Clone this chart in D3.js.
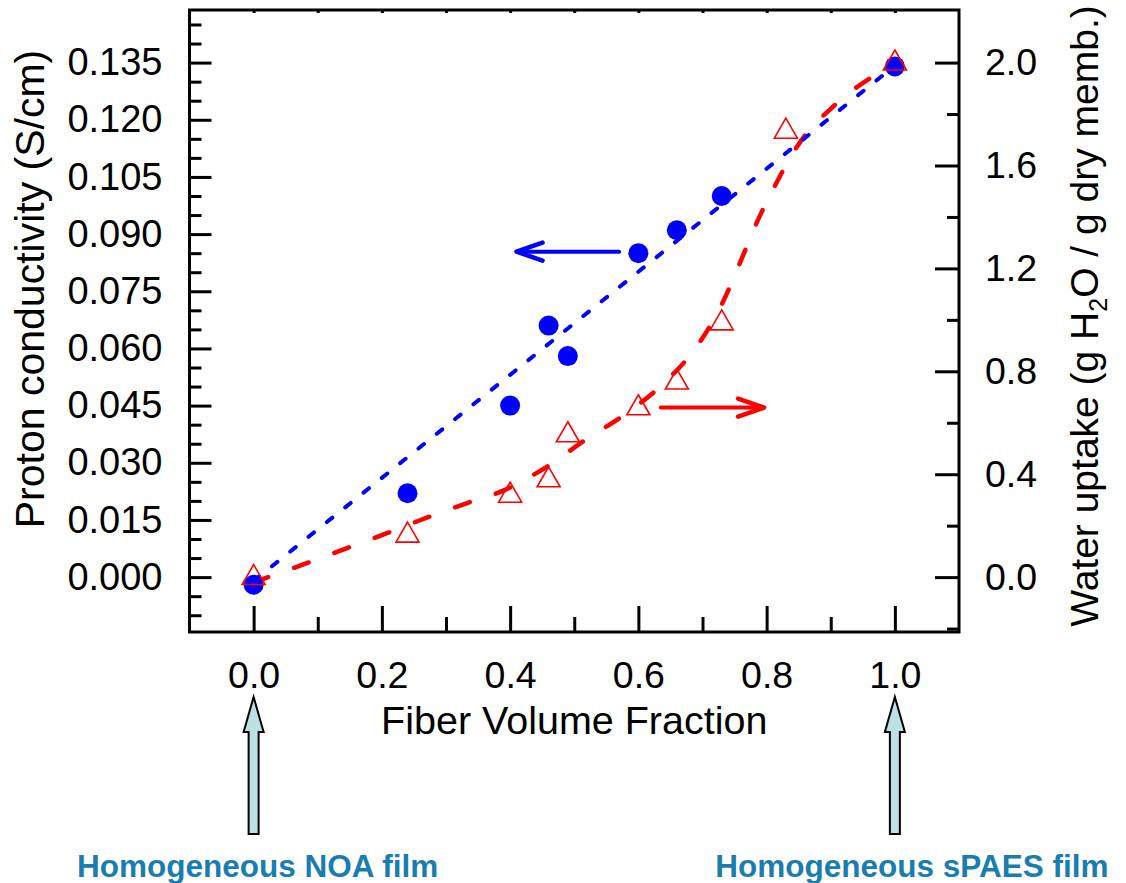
<!DOCTYPE html>
<html lang="en">
<head>
<meta charset="UTF-8">
<title>fiber volume fraction</title>
<style>
    body { margin: 0; background: #fff; }
    svg text { font-family: "Liberation Sans", Arial, sans-serif; fill: #000; }
</style>
</head>
<body>
<script src="https://cdn.jsdelivr.net/npm/d3@7"></script>
<svg id="svg"></svg>
<script>
// conductivity (left axis, S/cm)
var condX = [0, 0.24, 0.40, 0.46, 0.49, 0.60, 0.66, 0.73, 1.0];
var condY = [-0.002, 0.022, 0.045, 0.066, 0.058, 0.085, 0.091, 0.100, 0.134];
// straight dashed line through the conductivity data
var condLineX = [0, 1.0];
var condLineY = [-0.001, 0.1342];

// water uptake (right axis)
var waterX = [0, 0.24, 0.40, 0.46, 0.49, 0.60, 0.66, 0.73, 0.83, 1.0];
var waterY = [0.01, 0.175, 0.33, 0.39, 0.565, 0.67, 0.77, 1.0, 1.745, 2.01];
// dashed curve for water uptake
var waterLineX = [0, 0.054, 0.146, 0.208, 0.272, 0.333, 0.392, 0.454, 0.517, 0.582, 0.642, 0.696, 0.732, 0.759, 0.785, 0.816, 0.847, 0.91, 0.969, 1.0];
var waterLineY = [-0.02, 0.028, 0.113, 0.171, 0.233, 0.288, 0.339, 0.424, 0.533, 0.638, 0.759, 0.914, 1.07, 1.225, 1.38, 1.536, 1.672, 1.843, 1.952, 1.998];

// ticks
var xMajor = [0, 0.2, 0.4, 0.6, 0.8, 1.0];
var xMinor = [0.1, 0.3, 0.5, 0.7, 0.9];
var xTop = [0, 0.1, 0.2, 0.3, 0.4, 0.5, 0.6, 0.7, 0.8, 0.9, 1.0];
var leftMajor = [0, 0.015, 0.030, 0.045, 0.060, 0.075, 0.090, 0.105, 0.120, 0.135];
var leftMinor = [-0.010, -0.005, 0.005, 0.010, 0.020, 0.025, 0.035, 0.040, 0.050, 0.055, 0.065, 0.070,
    0.080, 0.085, 0.095, 0.100, 0.110, 0.115, 0.125, 0.130, 0.140, 0.145];
var rightMajor = [0, 0.4, 0.8, 1.2, 1.6, 2.0];
var rightMinor = [-0.2, 0.2, 0.6, 1.0, 1.4, 1.8];

var xTitle = "Fiber Volume Fraction";
var yLeftTitle = "Proton conductivity (S/cm)";
var notes = [{ x: 0, dx: 4, text: "Homogeneous NOA film" }, { x: 1.0, dx: 17, text: "Homogeneous sPAES film" }];

var w = 1126, h = 883;
var L = 189.5, R = 959, T = 10, B = 632;

var svg = d3.select("#svg").attr("width", w).attr("height", h);

var x = d3.scaleLinear().domain([-0.1, 1.1]).range([L, R]);
var yL = d3.scaleLinear().domain([-0.0144, 0.1488]).range([B, T]);
var yR = d3.scaleLinear().domain([-0.0144 / 0.0675, 0.1488 / 0.0675]).range([B, T]);

function styleAxis(g, size) {
    g.select(".domain").remove();
    g.selectAll(".tick line").attr("stroke", "#000").attr("stroke-width", 3);
    g.selectAll("text").attr("font-size", size).attr("font-family", "Liberation Sans, Arial, sans-serif");
}

// axes
svg.append("g").attr("transform", "translate(0," + B + ")")
    .call(d3.axisBottom(x).tickValues(xMajor).tickSize(-26).tickPadding(29).tickFormat(d3.format(".1f")))
    .call(styleAxis, 37.5);
svg.append("g").attr("transform", "translate(0," + B + ")")
    .call(d3.axisBottom(x).tickValues(xMinor).tickSize(-15).tickFormat(""))
    .call(styleAxis, 37);
svg.append("g").attr("transform", "translate(0," + T + ")")
    .call(d3.axisTop(x).tickValues(xTop).tickSize(-3).tickFormat(""))
    .call(styleAxis, 37);
svg.append("g").attr("transform", "translate(" + L + ",0)")
    .call(d3.axisLeft(yL).tickValues(leftMajor).tickSize(-22).tickPadding(27).tickFormat(d3.format(".3f")))
    .call(styleAxis, 38);
svg.append("g").attr("transform", "translate(" + L + ",0)")
    .call(d3.axisLeft(yL).tickValues(leftMinor).tickSize(-12).tickFormat(""))
    .call(styleAxis, 37);
svg.append("g").attr("transform", "translate(" + R + ",0)")
    .call(d3.axisRight(yR).tickValues(rightMajor).tickSize(-24).tickPadding(26).tickFormat(d3.format(".1f")))
    .call(styleAxis, 37.5);
svg.append("g").attr("transform", "translate(" + R + ",0)")
    .call(d3.axisRight(yR).tickValues(rightMinor).tickSize(-12).tickFormat(""))
    .call(styleAxis, 37);

svg.append("rect")
    .attr("x", L).attr("y", T).attr("width", R - L).attr("height", B - T)
    .attr("fill", "none").attr("stroke", "#000").attr("stroke-width", 3);

// titles
svg.append("text").attr("x", (L + R) / 2).attr("y", 734)
    .attr("text-anchor", "middle").attr("font-size", 39.5).text(xTitle);
svg.append("text").attr("transform", "translate(44,289) rotate(-90)")
    .attr("text-anchor", "middle").attr("font-size", 41).text(yLeftTitle);
var rt = svg.append("text").attr("transform", "translate(1098,316) rotate(-90)")
    .attr("text-anchor", "middle").attr("font-size", 39);
rt.append("tspan").text("Water uptake (g H");
rt.append("tspan").attr("font-size", 25).attr("dy", 9).text("2");
rt.append("tspan").attr("dy", -9).text("O / g dry memb.)");

// lines
var lineL = d3.line().x(function (d) { return x(d[0]); }).y(function (d) { return yL(d[1]); });
var lineR = d3.line().x(function (d) { return x(d[0]); }).y(function (d) { return yR(d[1]); })
    .curve(d3.curveMonotoneX);

svg.append("path")
    .datum(d3.zip(waterLineX, waterLineY))
    .attr("d", lineR)
    .attr("fill", "none").attr("stroke", "#ff0000").attr("stroke-width", 4.5)
    .attr("stroke-linecap", "round").attr("stroke-dasharray", "15.5,27.5");

svg.append("path")
    .datum(d3.zip(condLineX, condLineY))
    .attr("d", lineL)
    .attr("fill", "none").attr("stroke", "#0000ff").attr("stroke-width", 4)
    .attr("stroke-linecap", "round").attr("stroke-dasharray", "7,16.5");

// points
svg.append("g").selectAll("circle")
    .data(d3.zip(condX, condY))
    .enter().append("circle")
    .attr("cx", function (d) { return x(d[0]); })
    .attr("cy", function (d) { return yL(d[1]); })
    .attr("r", 10)
    .attr("fill", "#0000ff");

svg.append("g").selectAll("path")
    .data(d3.zip(waterX, waterY))
    .enter().append("path")
    .attr("transform", function (d) { return "translate(" + x(d[0]) + "," + yR(d[1]) + ")"; })
    .attr("d", "M0,-10L11.5,10L-11.5,10Z")
    .attr("fill", "none").attr("stroke", "#ff0000").attr("stroke-width", 1.6);

// arrows telling which axis each series uses
function arrow(x1, x2, yy, color) {
    var dir = x2 > x1 ? -1 : 1;
    svg.append("line").attr("x1", x1).attr("x2", x2).attr("y1", yy).attr("y2", yy)
        .attr("stroke", color).attr("stroke-width", 4).attr("stroke-linecap", "round");
    svg.append("path")
        .attr("d", "M" + (x2 + dir * 26) + "," + (yy - 9) + "L" + x2 + "," + yy + "L" + (x2 + dir * 26) + "," + (yy + 9))
        .attr("fill", "none").attr("stroke", color).attr("stroke-width", 4.5)
        .attr("stroke-linecap", "round").attr("stroke-linejoin", "round");
}
arrow(x(0.57), x(0.41), yL(0.0854), "#0000ff");
arrow(x(0.635), x(0.796), yR(0.659), "#ff0000");

// annotation arrows under the axis
notes.forEach(function (n) {
    var cx = x(n.x);
    var p = [[cx, 697], [cx + 10, 732], [cx + 5, 732], [cx + 5, 834], [cx - 5, 834], [cx - 5, 732], [cx - 10, 732]];
    svg.append("path").attr("d", "M" + p.join("L") + "Z")
        .attr("fill", "#bde0e3").attr("stroke", "#000").attr("stroke-width", 2);
    svg.append("text").attr("x", cx + n.dx).attr("y", 877)
        .attr("text-anchor", "middle").attr("font-size", 31.5).attr("font-weight", "bold")
        .style("fill", "#1a7db0").text(n.text);
});
</script>
</body>
</html>
